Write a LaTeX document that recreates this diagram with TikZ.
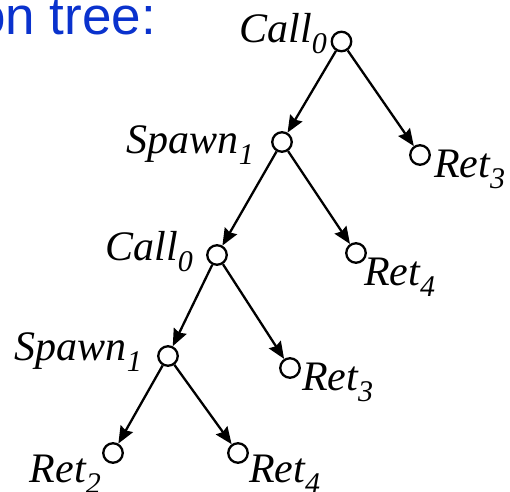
\documentclass[tikz,border=0pt]{standalone}
\usepackage{fontspec}
\setmainfont{Liberation Serif}
\newfontfamily\headfont{Liberation Sans}
\usetikzlibrary{arrows.meta}
\definecolor{headblue}{RGB}{10,50,205}
% label with a lowered, smaller index
\newcommand\idxlabel[2]{#1\raisebox{-11pt}{\fontsize{30}{33}\selectfont #2}}
\tikzset{
  vertex/.style={circle,draw,line width=2.3pt,fill=white,minimum size=19.5pt,inner sep=0pt},
  edge/.style={line width=2.3pt,-{Stealth[length=17pt,width=14pt,inset=2pt]}},
  lab/.style={inner sep=0pt,font=\fontsize{42}{48}\selectfont\itshape}
}
\begin{document}
\begin{tikzpicture}[x=1pt,y=-1pt]
  \useasboundingbox (0,0) rectangle (510,491);
  \begin{scope}
    \clip (0,0) rectangle (510,491);
    \node[anchor=base west,inner sep=0pt,text=headblue,font=\headfont\fontsize{53}{60}\selectfont] (head) at (-24,34) {on tree:};
  \end{scope}

  % vertices of the tree
  \node[vertex] (call0) at (341.5,41.5) {};
  \node[vertex] (spawn1) at (282,142) {};
  \node[vertex] (ret3a) at (420,155) {};
  \node[vertex] (call0b) at (217,255) {};
  \node[vertex] (ret4a) at (356,253) {};
  \node[vertex] (spawn1b) at (168,356) {};
  \node[vertex] (ret3b) at (290,368) {};
  \node[vertex] (ret2) at (113,453) {};
  \node[vertex] (ret4b) at (238,453) {};

  % edges
  \draw[edge] (call0) -- (spawn1);
  \draw[edge] (call0) -- (ret3a);
  \draw[edge] (spawn1) -- (call0b);
  \draw[edge] (spawn1) -- (ret4a);
  \draw[edge] (call0b) -- (spawn1b);
  \draw[edge] (call0b) -- (ret3b);
  \draw[edge] (spawn1b) -- (ret2);
  \draw[edge] (spawn1b) -- (ret4b);

  % labels
  \node[lab,anchor=base east] (lcall0) at (327,42) {\idxlabel{Call}{0}};
  \node[lab,anchor=base east] (lspawn1) at (254,153) {\idxlabel{Spawn}{1}};
  \node[lab,anchor=base west] (lret3a) at (434,177) {\idxlabel{Ret}{3}};
  \node[lab,anchor=base east] (lcall0b) at (193,260) {\idxlabel{Call}{0}};
  \node[lab,anchor=base west] (lret4a) at (364,285) {\idxlabel{Ret}{4}};
  \node[lab,anchor=base east] (lspawn1b) at (142,360) {\idxlabel{Spawn}{1}};
  \node[lab,anchor=base west] (lret3b) at (302,390) {\idxlabel{Ret}{3}};
  \node[lab,anchor=base east] (lret2) at (101,482) {\idxlabel{Ret}{2}};
  \node[lab,anchor=base west] (lret4b) at (249,482) {\idxlabel{Ret}{4}};
\end{tikzpicture}
\end{document}
